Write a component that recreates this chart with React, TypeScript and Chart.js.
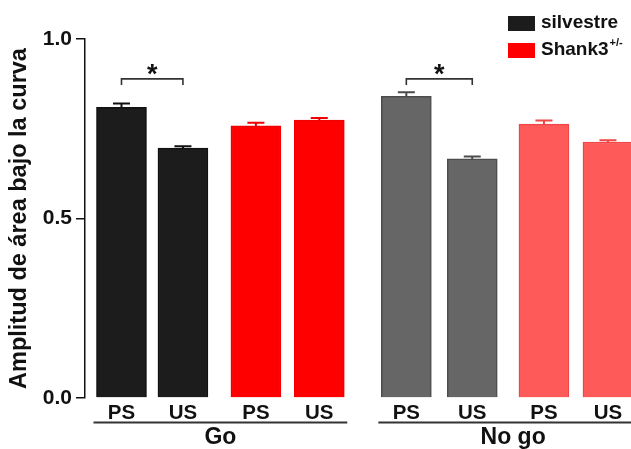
import React, { useEffect, useRef } from "react";
import { Chart, registerables } from "chart.js";

Chart.register(...registerables);

// ---- data ----
const tickLabels = ["PS", "US", "PS", "US", "PS", "US", "PS", "US"];
const slotPositions = [0.57, 1.53, 2.67, 3.66, 5.02, 6.05, 7.17, 8.17];
const amplitudes = [0.81, 0.696, 0.758, 0.774, 0.84, 0.666, 0.763, 0.713];
const sems = [0.01, 0.005, 0.009, 0.006, 0.012, 0.007, 0.01, 0.005];
const conditionNames = ["Go", "No go"];
const conditionMembers = [
  [0, 1, 2, 3],
  [4, 5, 6, 7],
];
const legendNames = ["silvestre", "Shank3"];
const legendSuperscripts = ["", "+/-"];
const significantPairs = [
  [0, 1],
  [4, 5],
];
const yMin = 0;
const yMax = 1.0;
const yStep = 0.5;

// ---- styles ----
const fills = ["#1c1c1c", "#1c1c1c", "#ff0000", "#ff0000", "#666666", "#666666", "#ff5a5a", "#ff5a5a"];
const borders = ["#111111", "#111111", "#f00000", "#f00000", "#4c4c4c", "#4c4c4c", "#f04646", "#f04646"];
const legendColors = ["#1c1c1c", "#ff0000"];
const FONT = "'Liberation Sans', Arial, sans-serif";
const BAR_W = 50;

const overlayPlugin = {
  id: "overlay",
  afterDatasetsDraw(chart: any) {
    const ctx = chart.ctx;
    const x = chart.scales.x;
    const y = chart.scales.y;
    ctx.save();
    // error bars
    amplitudes.forEach((v, i) => {
      const cx = x.getPixelForValue(slotPositions[i]);
      const y0 = y.getPixelForValue(v);
      const y1 = y.getPixelForValue(v + sems[i]);
      ctx.strokeStyle = borders[i];
      ctx.lineWidth = 2;
      ctx.beginPath();
      ctx.moveTo(cx, y0);
      ctx.lineTo(cx, y1);
      ctx.moveTo(cx - 8.5, y1);
      ctx.lineTo(cx + 8.5, y1);
      ctx.stroke();
    });
    // significance brackets
    significantPairs.forEach(([a, b]) => {
      const xa = x.getPixelForValue(slotPositions[a]);
      const xb = x.getPixelForValue(slotPositions[b]);
      const yt = y.getPixelForValue(0.889);
      const yb = y.getPixelForValue(0.872);
      ctx.strokeStyle = "#333333";
      ctx.lineWidth = 1.6;
      ctx.beginPath();
      ctx.moveTo(xa, yb);
      ctx.lineTo(xa, yt);
      ctx.lineTo(xb, yt);
      ctx.lineTo(xb, yb);
      ctx.stroke();
      ctx.fillStyle = "#111111";
      const fs = 27;
      ctx.font = `bold ${fs}px ${FONT}`;
      ctx.textAlign = "center";
      ctx.textBaseline = "alphabetic";
      ctx.fillText("*", (xa + xb) / 2, y.getPixelForValue(0.9206) + 0.57 * fs);
    });
    ctx.restore();
  },
  afterDraw(chart: any) {
    const ctx = chart.ctx;
    const x = chart.scales.x;
    const bottom = chart.chartArea.bottom;
    ctx.save();
    ctx.fillStyle = "#111111";
    ctx.font = `bold 20.5px ${FONT}`;
    ctx.textAlign = "center";
    ctx.textBaseline = "middle";
    tickLabels.forEach((t, i) => {
      ctx.fillText(t, x.getPixelForValue(slotPositions[i]), bottom + 15);
    });
    // group lines and names
    conditionMembers.forEach((members, g) => {
      const first = x.getPixelForValue(slotPositions[members[0]]) - BAR_W / 2 - 3;
      const last = Math.min(
        chart.width,
        x.getPixelForValue(slotPositions[members[members.length - 1]]) + BAR_W / 2 + 3
      );
      ctx.strokeStyle = "#333333";
      ctx.lineWidth = 2;
      ctx.beginPath();
      ctx.moveTo(first, bottom + 24.5);
      ctx.lineTo(last, bottom + 24.5);
      ctx.stroke();
      const mid =
        (x.getPixelForValue(slotPositions[members[0]]) +
          x.getPixelForValue(slotPositions[members[members.length - 1]])) /
        2;
      ctx.fillStyle = "#111111";
      ctx.font = `bold 23px ${FONT}`;
      ctx.fillText(conditionNames[g], mid + g * 6, bottom + 40);
    });
    // legend
    const lx = 508;
    const rows = [16, 43];
    legendNames.forEach((name, i) => {
      ctx.fillStyle = legendColors[i];
      ctx.fillRect(lx, rows[i], 27, 15);
      ctx.fillStyle = "#111111";
      ctx.font = `bold 19px ${FONT}`;
      ctx.textAlign = "left";
      ctx.textBaseline = "middle";
      ctx.fillText(name, lx + 33, rows[i] + 7);
      if (legendSuperscripts[i]) {
        const w = ctx.measureText(name).width;
        ctx.font = `bold 11px ${FONT}`;
        ctx.fillText(legendSuperscripts[i], lx + 33 + w + 1, rows[i] + 0);
      }
    });
    ctx.restore();
  },
};

export default function App() {
  const ref = useRef<HTMLCanvasElement | null>(null);
  useEffect(() => {
    document.body.style.margin = "0";
    const canvas = ref.current;
    if (!canvas) return;
    const chart = new Chart(canvas, {
      type: "bar",
      data: {
        datasets: [
          {
            data: slotPositions.map((p, i) => ({ x: p, y: amplitudes[i] })),
            backgroundColor: fills,
            borderColor: borders,
            borderWidth: 1.5,
            borderSkipped: "bottom",
            barThickness: BAR_W,
          } as any,
        ],
      },
      options: {
        animation: false,
        responsive: false,
        devicePixelRatio: 1,
        layout: { padding: { top: 39, bottom: 51, left: 0, right: 0 } },
        plugins: { legend: { display: false }, tooltip: { enabled: false } },
        scales: {
          x: {
            type: "linear",
            min: 0,
            max: 8.53,
            offset: false,
            display: false,
          },
          y: {
            min: yMin,
            max: yMax,
            afterFit(scale: any) {
              scale.width = 85;
            },
            ticks: {
              stepSize: yStep,
              padding: 4,
              color: "#111111",
              font: { family: FONT, size: 21, weight: "bold" },
              callback: (v: any) => Number(v).toFixed(1),
            },
            grid: {
              drawOnChartArea: false,
              drawTicks: true,
              tickLength: 9,
              color: "#111111",
              lineWidth: 1.5,
            },
            border: { display: true, color: "#111111", width: 1.5 },
            title: {
              display: true,
              text: "Amplitud de área bajo la curva",
              color: "#111111",
              font: { family: FONT, size: 23.5, weight: "bold" },
              padding: { top: 5.5, bottom: 0 },
            },
          },
        },
      },
      plugins: [overlayPlugin],
    });
    return () => chart.destroy();
  }, []);
  return (
    <div style={{ position: "absolute", left: 0, top: 0, width: 631, height: 449, background: "#fff" }}>
      <canvas ref={ref} width={631} height={449} />
    </div>
  );
}
